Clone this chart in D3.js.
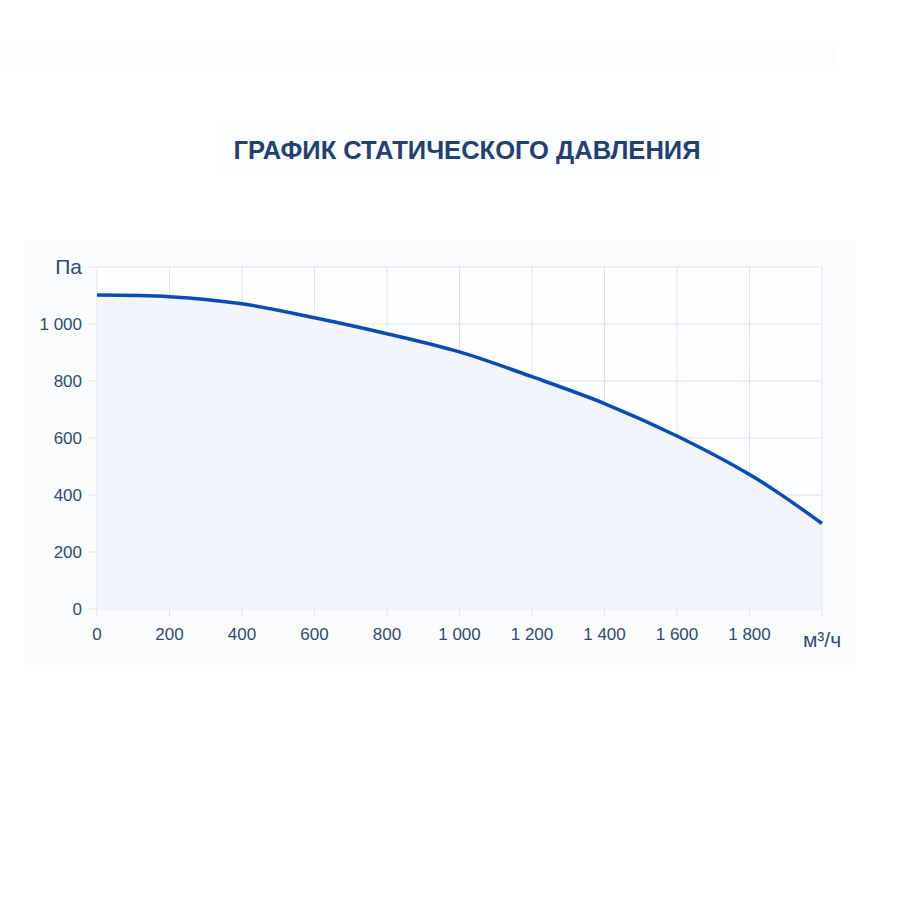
<!DOCTYPE html>
<html>
<head>
<meta charset="utf-8">
<script src="https://cdn.jsdelivr.net/npm/d3@7"></script>
<style>
body { margin: 0; background: #fff; }
svg text { font-family: "Liberation Sans", Arial, sans-serif; }
</style>
</head>
<body>
<div id="chart"></div>
<script>
// flow (m3/h) and static pressure (Pa)
const flow = [0, 200, 400, 600, 800, 1000, 1200, 1400, 1600, 1800, 1900, 2000];
const pressure = [1102, 1096, 1071, 1022, 966, 902, 815, 721, 607, 472, 390, 300];
const xTicks = [0, 200, 400, 600, 800, 1000, 1200, 1400, 1600, 1800];
const yTicks = [0, 200, 400, 600, 800, 1000];
const title = "ГРАФИК СТАТИЧЕСКОГО ДАВЛЕНИЯ";

const W = 900, H = 900;
const margin = { top: 267, right: 78, bottom: 291, left: 97 };
const width = W - margin.left - margin.right;
const height = H - margin.top - margin.bottom;

const svg = d3.select("#chart").append("svg")
    .attr("width", W)
    .attr("height", H);

// faint background panels
svg.append("rect").attr("x", 0).attr("y", 45).attr("width", 836).attr("height", 26).attr("fill", "#fcfdfe");
svg.append("rect").attr("x", 222).attr("y", 120).attr("width", 498).attr("height", 56).attr("fill", "#fcfdfe");
svg.append("rect").attr("x", 24).attr("y", 240).attr("width", 832).attr("height", 425).attr("fill", "#fbfcfe");

svg.append("text")
    .attr("x", 467)
    .attr("y", 159)
    .attr("text-anchor", "middle")
    .attr("font-family", "Roboto, sans-serif")
    .attr("font-size", 26)
    .attr("font-weight", "bold")
    .attr("fill", "#1f4173")
    .attr("textLength", 467)
    .attr("lengthAdjust", "spacingAndGlyphs")
    .text(title);

const g = svg.append("g").attr("transform", `translate(${margin.left},${margin.top})`);

const x = d3.scaleLinear().domain([0, 2000]).range([0, width]);
const y = d3.scaleLinear().domain([0, 1200]).range([height, 0]);

g.append("rect").attr("width", width).attr("height", height).attr("fill", "#fdfeff");

// grid
g.selectAll(".vgrid")
    .data(x.ticks(10))
    .join("line")
    .attr("x1", d => x(d)).attr("x2", d => x(d))
    .attr("y1", 0).attr("y2", height)
    .attr("stroke", "#dfe3ea");

g.selectAll(".hgrid")
    .data(y.ticks(6))
    .join("line")
    .attr("x1", -8).attr("x2", width)
    .attr("y1", d => y(d)).attr("y2", d => y(d))
    .attr("stroke", "#dfe3ea");

// x tick marks below axis
g.selectAll(".xtick")
    .data(x.ticks(10))
    .join("line")
    .attr("x1", d => x(d)).attr("x2", d => x(d))
    .attr("y1", height).attr("y2", height + 8)
    .attr("stroke", "#dfe3ea");

const data = flow.map((f, i) => ({ f, p: pressure[i] }));

g.append("path")
    .datum(data)
    .attr("fill", "#f2f5fb")
    .attr("d", d3.area().x(d => x(d.f)).y0(height).y1(d => y(d.p)).curve(d3.curveCatmullRom));

g.append("path")
    .datum(data)
    .attr("fill", "none")
    .attr("stroke", "#0a4cb5")
    .attr("stroke-width", 3.5)
    .attr("d", d3.line().x(d => x(d.f)).y(d => y(d.p)).curve(d3.curveCatmullRom));

const fmt = d => d3.format(",")(d).replace(/,/g, " ");

g.selectAll(".ylab")
    .data(yTicks)
    .join("text")
    .attr("x", -15)
    .attr("y", d => y(d))
    .attr("dy", "0.35em")
    .attr("text-anchor", "end")
    .attr("font-size", 17)
    .attr("fill", "#2b4a78")
    .text(fmt);

g.selectAll(".xlab")
    .data(xTicks)
    .join("text")
    .attr("x", d => x(d))
    .attr("y", height + 31)
    .attr("text-anchor", "middle")
    .attr("font-size", 17)
    .attr("fill", "#2b4a78")
    .text(fmt);

g.append("text")
    .attr("x", -15)
    .attr("y", 0)
    .attr("dy", "0.35em")
    .attr("text-anchor", "end")
    .attr("font-size", 21)
    .attr("fill", "#2b4a78")
    .text("Па");

g.append("text")
    .attr("x", width)
    .attr("y", height + 38)
    .attr("text-anchor", "middle")
    .attr("font-size", 21)
    .attr("fill", "#2b4a78")
    .text("м³/ч");
</script>
</body>
</html>
